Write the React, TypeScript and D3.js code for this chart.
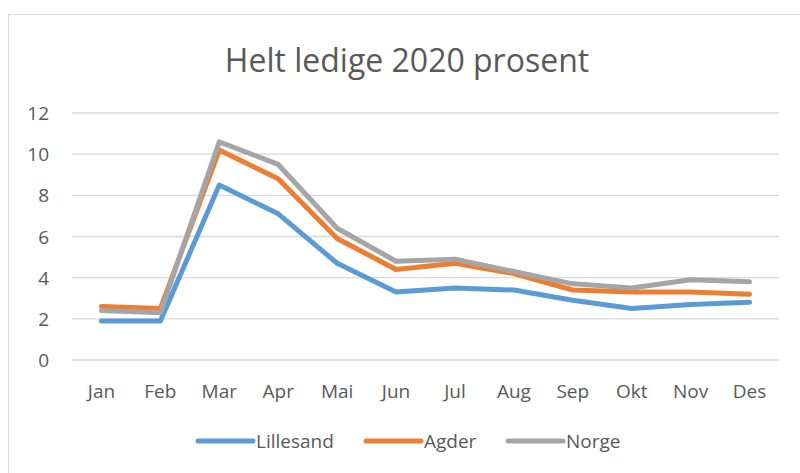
import React from "react";
import * as d3 from "d3";

const months = ["Jan", "Feb", "Mar", "Apr", "Mai", "Jun", "Jul", "Aug", "Sep", "Okt", "Nov", "Des"];
const lillesand = [1.9, 1.9, 8.5, 7.1, 4.7, 3.3, 3.5, 3.4, 2.9, 2.5, 2.7, 2.8];
const agder = [2.6, 2.5, 10.2, 8.8, 5.9, 4.4, 4.7, 4.2, 3.4, 3.3, 3.3, 3.2];
const norge = [2.4, 2.3, 10.6, 9.5, 6.4, 4.8, 4.9, 4.3, 3.7, 3.5, 3.9, 3.8];
const yTicks = [0, 2, 4, 6, 8, 10, 12];
const seriesNames = ["Lillesand", "Agder", "Norge"];
const seriesColors = ["#5B9BD5", "#ED7D31", "#A5A5A5"];

const W = 800;
const H = 473;
const FONT = "'Open Sans', 'Noto Sans', sans-serif";

export default function App() {
  const x = d3.scaleBand<string>().domain(months).range([72, 779]);
  const y = d3.scaleLinear().domain([0, 12]).range([360, 113]);
  const line = d3
    .line<number>()
    .x((_, i) => (x(months[i]) as number) + x.bandwidth() / 2)
    .y((d) => y(d));
  const series = [lillesand, agder, norge];
  const legendX = [198, 366, 508];

  return (
    <svg
      width={W}
      height={H}
      style={{ position: "absolute", left: 0, top: 0, background: "#fff" }}
      fontFamily={FONT}
    >
      <rect x={8.5} y={14.5} width={W + 10} height={H + 10} fill="#fff" stroke="#D9D9D9" strokeWidth={1} />
      <text x={407} y={72} textAnchor="middle" fontSize={32} fill="#595959">
        Helt ledige 2020 prosent
      </text>
      {yTicks.map((t) => (
        <g key={t}>
          <line x1={72} x2={779} y1={y(t)} y2={y(t)} stroke="#D9D9D9" strokeWidth={1.3} />
          <text x={49} y={y(t) + 7} textAnchor="end" fontSize={19} fill="#595959">
            {t}
          </text>
        </g>
      ))}
      {months.map((m) => (
        <text
          key={m}
          x={(x(m) as number) + x.bandwidth() / 2}
          y={398}
          textAnchor="middle"
          fontSize={19}
          fill="#595959"
        >
          {m}
        </text>
      ))}
      {series.map((s, i) => (
        <path
          key={seriesNames[i]}
          d={line(s) as string}
          fill="none"
          stroke={seriesColors[i]}
          strokeWidth={5}
          strokeLinejoin="round"
          strokeLinecap="round"
        />
      ))}
      {seriesNames.map((n, i) => (
        <g key={n}>
          <line
            x1={legendX[i]}
            x2={legendX[i] + 55}
            y1={441}
            y2={441}
            stroke={seriesColors[i]}
            strokeWidth={5}
            strokeLinecap="round"
          />
          <text x={legendX[i] + 58} y={448} fontSize={19} fill="#595959">
            {n}
          </text>
        </g>
      ))}
    </svg>
  );
}
